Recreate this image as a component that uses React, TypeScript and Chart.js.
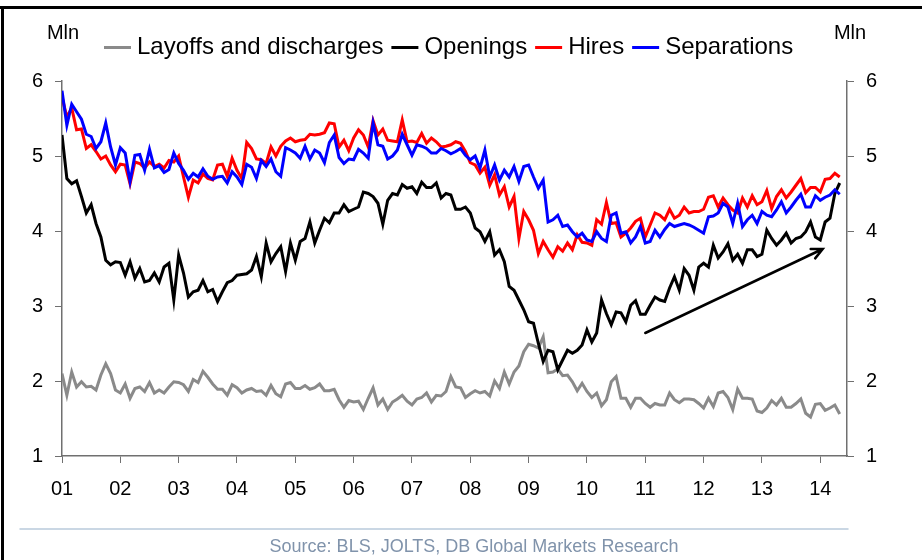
import { useEffect, useRef } from "react";
import { Chart, registerables } from "chart.js";

Chart.register(...registerables);

const FONT = "'Liberation Sans', Arial, Helvetica, sans-serif";

const yearLabels = ["01", "02", "03", "04", "05", "06", "07", "08", "09", "10", "11", "12", "13", "14"];
const seriesNames = ["Layoffs and discharges", "Openings", "Hires", "Separations"];
const seriesColors = ["#8a8a8a", "#000000", "#ff0000", "#0000ff"];
const unitLabel = "Mln";
const sourceText = "Source: BLS, JOLTS, DB Global Markets Research";
const arrowFrom = { x: 120, y: 2.64 };
const arrowTo = { x: 156.5, y: 3.76 };

const layoffs = [
  2.10, 1.81, 2.12, 1.92, 1.99, 1.92, 1.93, 1.88, 2.08, 2.23,
  2.10, 1.88, 1.84, 1.96, 1.77, 1.90, 1.92, 1.86, 1.98, 1.84,
  1.88, 1.84, 1.92, 1.99, 1.98, 1.95, 1.86, 2.02, 1.98, 2.13,
  2.05, 1.96, 1.89, 1.89, 1.81, 1.95, 1.91, 1.84, 1.88, 1.90,
  1.86, 1.87, 1.81, 1.94, 1.83, 1.79, 1.96, 1.98, 1.90, 1.90,
  1.94, 1.89, 1.91, 1.96, 1.87, 1.87, 1.89, 1.75, 1.65, 1.74,
  1.72, 1.73, 1.62, 1.77, 1.91, 1.68, 1.76, 1.62, 1.72, 1.76,
  1.81, 1.73, 1.68, 1.76, 1.78, 1.84, 1.72, 1.81,
  1.80, 1.86, 2.06, 1.92, 1.91, 1.78, 1.83, 1.87, 1.84, 1.86,
  1.80, 2.00, 1.90, 2.12, 1.96, 2.12, 2.20, 2.39, 2.49, 2.47,
  2.44, 2.59, 2.11, 2.12, 2.16, 2.07, 2.08, 1.99, 1.87, 1.97,
  1.86, 1.78, 1.84, 1.67, 1.75, 1.99, 2.06, 1.77, 1.77, 1.65,
  1.77, 1.77, 1.70, 1.65, 1.70, 1.68, 1.68, 1.84, 1.75, 1.71,
  1.76, 1.76, 1.75, 1.70, 1.64, 1.77, 1.66, 1.84, 1.86, 1.78,
  1.62, 1.89, 1.77, 1.77, 1.76, 1.60, 1.58, 1.64, 1.74, 1.68,
  1.77, 1.65, 1.65, 1.70, 1.76, 1.57, 1.52, 1.69, 1.70, 1.61,
  1.64, 1.68, 1.56,
];

const openings = [
  5.28, 4.70, 4.63, 4.67, 4.46, 4.24, 4.35, 4.10, 3.92, 3.61,
  3.55, 3.59, 3.58, 3.41, 3.59, 3.37, 3.50, 3.32, 3.34, 3.44,
  3.32, 3.52, 3.57, 3.08, 3.68, 3.44, 3.12, 3.19, 3.21, 3.34,
  3.19, 3.22, 3.06, 3.19, 3.31, 3.34, 3.41, 3.42, 3.43, 3.48,
  3.66, 3.39, 3.84, 3.59, 3.70, 3.79, 3.46, 3.84, 3.61, 3.86,
  3.90, 4.12, 3.84, 4.01, 4.17, 4.11, 4.24, 4.24,
  4.35, 4.26, 4.29, 4.32, 4.52, 4.50, 4.46, 4.37, 4.09, 4.41,
  4.50, 4.48, 4.62, 4.57, 4.59, 4.50, 4.65, 4.58, 4.58, 4.64,
  4.44, 4.50, 4.48, 4.29, 4.29, 4.32, 4.24, 4.04, 3.99, 3.86,
  3.99, 3.68, 3.75, 3.59, 3.26, 3.21, 3.08, 2.95, 2.79, 2.77,
  2.50,
  2.26, 2.41, 2.39, 2.15, 2.28, 2.41, 2.37, 2.41, 2.48, 2.68,
  2.52, 2.64,
  3.08, 2.90, 2.75, 2.92, 2.91, 2.79, 3.01, 3.07, 2.89, 2.89,
  3.01, 3.12, 3.08, 3.06, 3.24, 3.39, 3.21, 3.50, 3.41, 3.21,
  3.52, 3.57, 3.52, 3.81, 3.64, 3.72, 3.83, 3.61, 3.69, 3.57,
  3.75, 3.75, 3.66, 3.69, 4.01, 3.90, 3.81, 3.88, 3.97, 3.84,
  3.90, 3.92, 3.99, 4.12, 3.92, 3.88, 4.12, 4.17, 4.50, 4.64,
];

const hires = [
  5.79, 5.52, 5.64, 5.35, 5.36, 5.10, 5.15, 5.06, 4.96, 5.00,
  4.88, 4.79, 4.89, 4.88, 4.63, 4.92, 4.90, 4.84, 4.92, 4.86,
  4.89, 4.84, 4.94, 4.92, 5.00, 4.72, 4.45, 4.68, 4.64, 4.76,
  4.70, 4.68, 4.88, 4.89, 4.73, 4.97, 4.81, 4.70, 5.18, 5.10,
  4.96, 4.95, 4.90, 5.12, 5.00, 5.13, 5.20, 5.24, 5.19, 5.21,
  5.22, 5.29, 5.28, 5.29, 5.31, 5.44, 5.43, 5.12,
  5.21, 5.07, 5.24, 5.35, 5.28, 5.12, 5.47, 5.28, 5.36, 5.21,
  5.20, 5.19, 5.48, 5.19, 5.20, 5.18, 5.30, 5.17, 5.24, 5.19,
  5.12, 5.13, 5.15, 5.19, 5.17, 5.06, 4.91, 4.88, 4.77, 4.85,
  4.61, 4.75, 4.48, 4.59, 4.32, 4.46, 3.90, 4.26, 4.15, 4.01,
  3.70, 3.86, 3.75, 3.65, 3.79, 3.73, 3.84, 3.75, 3.95,
  3.85, 3.84, 3.81, 4.15, 4.09, 4.38, 4.10, 4.11, 3.92, 3.97,
  4.04, 4.13, 4.17, 3.92, 4.08, 4.24, 4.21, 4.15, 4.29, 4.17,
  4.21, 4.32, 4.24, 4.26, 4.26, 4.29, 4.45, 4.47, 4.32, 4.44,
  4.35, 4.28, 4.24, 4.44, 4.32, 4.47, 4.35, 4.39, 4.54, 4.30,
  4.46, 4.55, 4.44, 4.52, 4.61, 4.70, 4.51, 4.58, 4.58, 4.52,
  4.69, 4.70, 4.77, 4.72,
];

const separations = [
  5.87, 5.41, 5.69, 5.59, 5.49, 5.29, 5.26, 5.10, 5.19, 5.44,
  5.12, 4.88, 5.11, 5.04, 4.66, 5.01, 5.02, 4.81, 5.09, 4.84,
  4.87, 4.78, 4.82, 5.04, 4.90, 4.81, 4.69, 4.77, 4.72, 4.83,
  4.73, 4.69, 4.72, 4.73, 4.64, 4.79, 4.72, 4.62, 4.89, 4.85,
  4.70, 4.94, 4.86, 4.96, 4.79, 4.73, 5.11, 5.08, 5.04, 4.97,
  5.13, 4.96, 5.08, 5.04, 4.91, 5.18, 5.28, 4.98,
  4.90, 4.96, 4.95, 5.09, 5.04, 4.97, 5.44, 5.15, 5.13, 4.96,
  5.00, 5.08, 5.29, 5.15, 5.01, 5.15, 5.13, 5.10, 5.04, 5.04,
  5.10, 5.07, 5.03, 5.06, 5.10, 5.01, 4.95, 5.00, 4.84, 5.08,
  4.72, 4.88, 4.68, 4.81, 4.72, 4.86, 4.66, 4.86, 4.88, 4.72,
  4.57, 4.68, 4.12, 4.15, 4.21, 4.06, 4.08, 3.99, 3.92,
  3.97, 3.88, 3.86, 3.99, 3.90, 3.86, 4.21, 4.24, 3.97, 3.99,
  3.84, 3.92, 4.06, 3.84, 3.86, 4.01, 3.92, 4.02, 4.10, 4.06,
  4.08, 4.10, 4.08, 4.05, 4.01, 3.97, 4.19, 4.20, 4.24, 4.37,
  4.32, 4.10, 4.37, 4.06, 4.15, 4.21, 4.10, 4.26, 4.21, 4.19,
  4.28, 4.39, 4.24, 4.32, 4.41, 4.49, 4.32, 4.32, 4.47, 4.41,
  4.45, 4.48, 4.55, 4.49,
];

const seriesValues = [layoffs, openings, hires, separations];
const drawOrder = [4, 3, 2, 1];

const toPoints = (arr: number[]) => arr.map((v, i) => ({ x: i, y: v }));

const decorPlugin = {
  id: "decor",
  beforeDraw(chart: any) {
    const ctx = chart.ctx;
    ctx.save();
    ctx.fillStyle = "#ffffff";
    ctx.fillRect(0, 0, chart.width, chart.height);
    ctx.restore();
  },
  afterDraw(chart: any) {
    const ctx = chart.ctx;
    const { x, y, y2 } = chart.scales;
    ctx.save();

    // frame (top and left)
    ctx.fillStyle = "#000000";
    ctx.fillRect(0, 6, chart.width, 3);
    ctx.fillRect(1, 6, 3, chart.height - 6);

    // unit labels
    ctx.fillStyle = "#000000";
    ctx.font = `20px ${FONT}`;
    ctx.textAlign = "center";
    ctx.textBaseline = "middle";
    ctx.fillText(unitLabel, y.right + 1, 33);
    ctx.fillText(unitLabel, y2.left + 3, 33);

    // legend
    ctx.font = `24px ${FONT}`;
    ctx.textAlign = "left";
    let lx = 104;
    const ly = 47.5;
    chart.data.datasets.forEach((ds: any) => {
      ctx.strokeStyle = ds.borderColor;
      ctx.lineWidth = 3;
      ctx.beginPath();
      ctx.moveTo(lx, ly);
      ctx.lineTo(lx + 27, ly);
      ctx.stroke();
      ctx.fillStyle = "#000000";
      ctx.fillText(ds.label, lx + 33, ly);
      lx += 33 + ctx.measureText(ds.label).width + 8;
    });

    // arrow annotation
    const ax0 = x.getPixelForValue(arrowFrom.x);
    const ay0 = y.getPixelForValue(arrowFrom.y);
    const ax1 = x.getPixelForValue(arrowTo.x);
    const ay1 = y.getPixelForValue(arrowTo.y);
    ctx.strokeStyle = "#000000";
    ctx.lineWidth = 2.5;
    ctx.lineCap = "round";
    ctx.beginPath();
    ctx.moveTo(ax0, ay0);
    ctx.lineTo(ax1, ay1);
    const ang = Math.atan2(ay1 - ay0, ax1 - ax0);
    const hl = 12;
    ctx.moveTo(ax1 - hl * Math.cos(ang - 0.45), ay1 - hl * Math.sin(ang - 0.45));
    ctx.lineTo(ax1, ay1);
    ctx.lineTo(ax1 - hl * Math.cos(ang + 0.45), ay1 - hl * Math.sin(ang + 0.45));
    ctx.stroke();

    // separator and source
    ctx.strokeStyle = "#b9cadc";
    ctx.lineWidth = 1.5;
    ctx.beginPath();
    ctx.moveTo(20, 529);
    ctx.lineTo(848, 529);
    ctx.stroke();
    ctx.fillStyle = "#8093ab";
    ctx.font = `18px ${FONT}`;
    ctx.textAlign = "center";
    ctx.fillText(sourceText, 474, 547);

    ctx.restore();
  },
};

export default function App() {
  const ref = useRef<HTMLCanvasElement | null>(null);

  useEffect(() => {
    if (!ref.current) return;
    const tickFont = { family: FONT, size: 20 };
    const axisColor = "#707070";
    const chart = new Chart(ref.current, {
      type: "line",
      data: {
        datasets: seriesNames.map((name, i) => ({
          label: name,
          data: toPoints(seriesValues[i]),
          borderColor: seriesColors[i],
          backgroundColor: seriesColors[i],
          borderWidth: 3,
          pointRadius: 0,
          tension: 0,
          fill: false,
          order: drawOrder[i],
          yAxisID: "y",
        })),
      },
      options: {
        animation: false,
        responsive: false,
        maintainAspectRatio: false,
        layout: { padding: { top: 81, left: 0, right: 0, bottom: 0 } },
        plugins: { legend: { display: false }, tooltip: { enabled: false } },
        scales: {
          x: {
            type: "linear",
            min: 0,
            max: 161.5,
            afterBuildTicks: (s: any) => {
              s.ticks = yearLabels.map((_, i) => ({ value: i * 12 }));
            },
            afterFit: (s: any) => {
              s.height = 104;
            },
            ticks: {
              autoSkip: false,
              maxRotation: 0,
              color: "#000000",
              font: tickFont,
              padding: 14,
              callback: (v: any) => yearLabels[Math.round(Number(v) / 12)] ?? "",
            },
            grid: { drawOnChartArea: false, tickLength: 7, color: axisColor },
            border: { color: axisColor, width: 1.5 },
          },
          y: {
            position: "left",
            min: 1,
            max: 6,
            afterFit: (s: any) => {
              s.width = 62;
            },
            ticks: { stepSize: 1, color: "#000000", font: tickFont, padding: 12 },
            grid: { drawOnChartArea: false, tickLength: 7, color: axisColor },
            border: { color: axisColor, width: 1.5 },
          },
          y2: {
            position: "right",
            min: 1,
            max: 6,
            afterFit: (s: any) => {
              s.width = 75;
            },
            ticks: { stepSize: 1, color: "#000000", font: tickFont, padding: 12 },
            grid: { drawOnChartArea: false, tickLength: 7, color: axisColor },
            border: { color: axisColor, width: 1.5 },
          },
        },
      },
      plugins: [decorPlugin],
    } as any);
    return () => chart.destroy();
  }, []);

  return (
    <div style={{ position: "fixed", left: 0, top: 0, width: 922, height: 560, background: "#fff" }}>
      <canvas ref={ref} width={922} height={560} style={{ display: "block", width: 922, height: 560 }} />
    </div>
  );
}
